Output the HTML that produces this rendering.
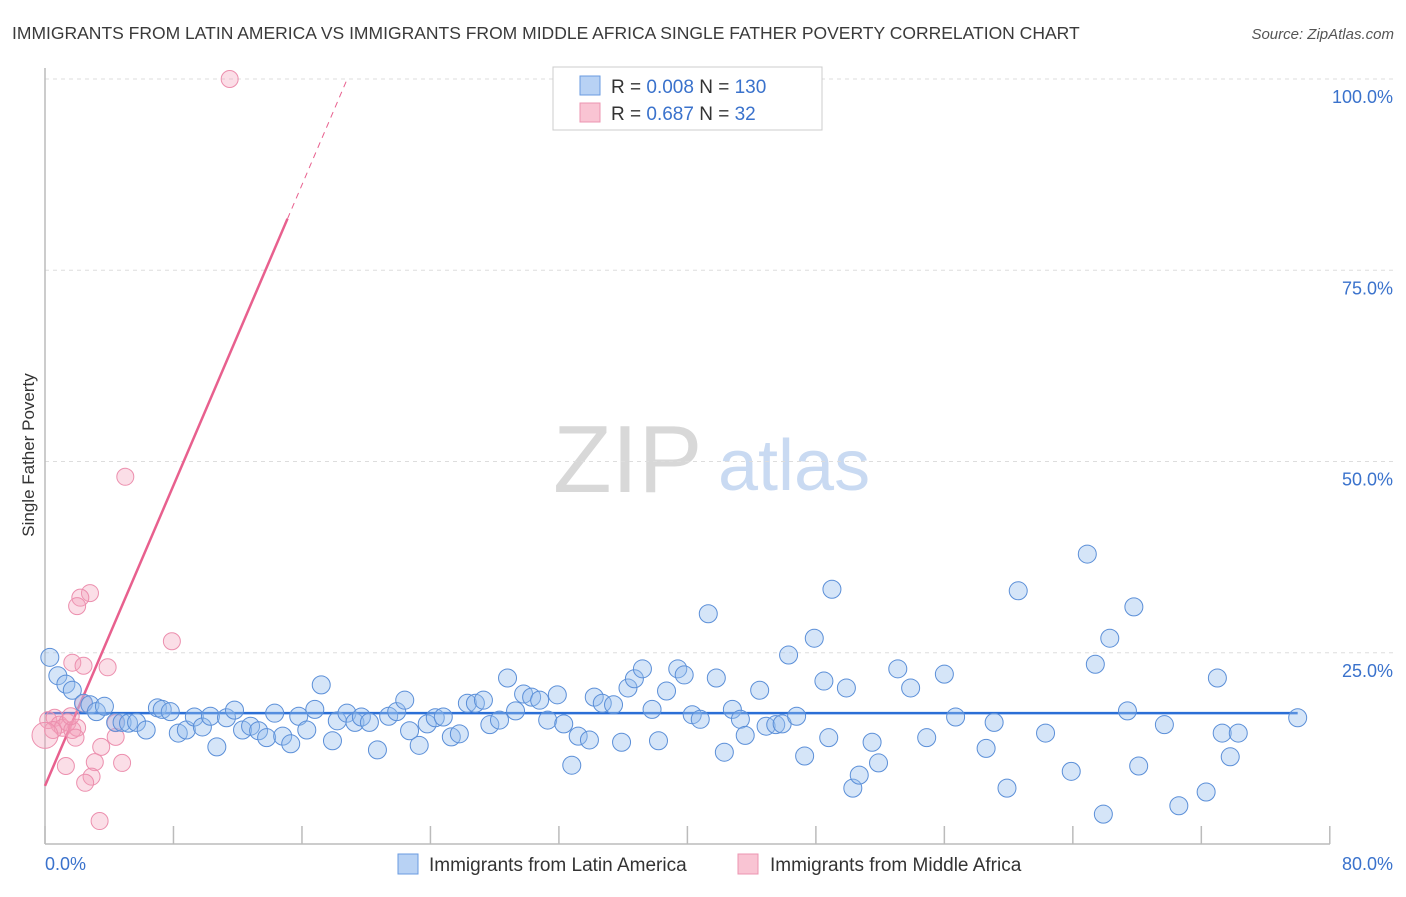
<!DOCTYPE html>
<html><head><meta charset="utf-8"><style>
body{margin:0;background:#fff;font-family:"Liberation Sans",sans-serif}
svg text{font-family:"Liberation Sans",sans-serif}
</style></head><body>
<svg id="chart" width="1406" height="892" viewBox="0 0 1406 892" xmlns="http://www.w3.org/2000/svg">
<text x="12" y="39" font-size="17.5" fill="#3a3a3a">IMMIGRANTS FROM LATIN AMERICA VS IMMIGRANTS FROM MIDDLE AFRICA SINGLE FATHER POVERTY CORRELATION CHART</text>
<text x="1394" y="39" font-size="15" fill="#555" text-anchor="end" font-style="italic">Source: ZipAtlas.com</text>
<g>
<text x="553" y="492" font-size="96" font-family="Liberation Serif" fill="#d8d8d8">ZIP</text>
<text x="718" y="490" font-size="72" fill="#c9daf2">atlas</text>
</g>
<g id="grid"></g>
<g id="axes"></g>
<g id="lines"></g>
<g id="pts"></g>
<text transform="translate(34,455) rotate(-90)" font-size="17" fill="#333" text-anchor="middle">Single Father Poverty</text>
<g>
<rect x="553" y="67" width="269" height="63" fill="#fff" stroke="#ccc"/>
<rect x="580" y="76" width="20" height="19" fill="#b8d2f4" stroke="#6a9be0"/>
<rect x="580" y="103" width="20" height="19" fill="#f9c4d3" stroke="#ec95b0"/>
<text x="611" y="93" font-size="19" fill="#333">R = <tspan fill="#3a72cc">0.008</tspan>   N = <tspan fill="#3a72cc">130</tspan></text>
<text x="611" y="120" font-size="19" fill="#333">R =  <tspan fill="#3a72cc">0.687</tspan>   N =   <tspan fill="#3a72cc">32</tspan></text>
</g>
<g>
<rect x="398" y="854" width="20" height="20" fill="#b8d2f4" stroke="#6a9be0"/>
<text x="429" y="871" font-size="19" fill="#333">Immigrants from Latin America</text>
<rect x="738" y="854" width="20" height="20" fill="#f9c4d3" stroke="#ec95b0"/>
<text x="770" y="871" font-size="19" fill="#333">Immigrants from Middle Africa</text>
</g>
</svg>
<script>
const yTicks=[25,50,75,100];
const yTickLabels=["25.0%","50.0%","75.0%","100.0%"];
const xTicks=[0,8,16,24,32,40,48,56,64,72,80];
const blueX=[0.3,0.8,1.3,1.7,2.4,2.8,3.2,3.7,4.4,4.8,5.2,5.7,6.3,7.0,7.3,7.8,8.3,8.8,9.3,9.8,10.3,10.7,11.3,11.8,12.3,12.8,13.3,13.8,14.3,14.8,15.3,15.8,16.3,16.8,17.2,17.9,18.2,18.8,19.3,19.7,20.2,20.7,21.4,21.9,22.4,22.7,23.3,23.8,24.3,24.8,25.3,25.8,26.3,26.8,27.3,27.7,28.3,28.8,29.3,29.8,30.3,30.8,31.3,31.9,32.3,32.8,33.2,33.9,34.2,34.7,35.4,35.9,36.3,36.7,37.2,37.8,38.2,38.7,39.4,39.8,40.3,40.8,41.3,41.8,42.3,42.8,43.3,43.6,44.5,44.9,45.5,45.9,46.3,46.8,47.3,47.9,48.5,48.8,49.0,49.9,50.3,50.7,51.5,51.9,53.1,53.9,54.9,56.0,56.7,58.6,59.1,59.9,60.6,62.3,63.9,64.9,65.4,65.9,66.3,67.4,67.8,68.1,69.7,70.6,72.3,73.0,73.3,73.8,74.3,78.0];
const blueY=[24.4,22.0,20.9,20.1,18.4,18.2,17.3,18.0,15.9,15.9,15.8,15.9,14.9,17.8,17.6,17.3,14.5,14.9,16.6,15.3,16.7,12.7,16.5,17.5,14.9,15.4,14.8,13.9,17.1,14.1,13.1,16.7,14.9,17.6,20.8,13.5,16.1,17.1,15.9,16.6,15.9,12.3,16.7,17.3,18.8,14.8,12.9,15.7,16.5,16.6,14.0,14.4,18.4,18.4,18.8,15.6,16.2,21.7,17.4,19.6,19.2,18.8,16.2,19.5,15.7,10.3,14.1,13.6,19.2,18.4,18.2,13.3,20.4,21.6,22.9,17.6,13.5,20.0,22.9,22.1,16.9,16.3,30.1,21.7,12.0,17.6,16.3,14.2,20.1,15.4,15.6,15.7,24.7,16.7,11.5,26.9,21.3,13.9,33.3,20.4,7.3,9.0,13.3,10.6,22.9,20.4,13.9,22.2,16.6,12.5,15.9,7.3,33.1,14.5,9.5,37.9,23.5,3.9,26.9,17.4,31.0,10.2,15.6,5.0,6.8,21.7,14.5,11.4,14.5,16.5];
const pinkX=[11.5,5.0,2.8,2.2,2.0,7.9,1.7,2.4,3.9,2.4,0.2,0.6,0.9,1.1,1.4,1.7,2.0,0.5,0.0,4.4,4.4,3.5,1.3,3.1,4.8,2.9,2.5,3.4,1.9,1.6];
const pinkY=[100,48.0,32.8,32.2,31.1,26.5,23.7,23.3,23.1,18.4,16.2,16.5,15.6,15.2,15.9,14.9,15.2,14.9,14.2,15.8,14.0,12.7,10.2,10.7,10.6,8.8,8.0,3.0,13.9,16.7];
const blueTrend=[0,78,17.1];
const pinkTrend=[7.6,4.91];
const ns="http://www.w3.org/2000/svg";
const X=v=>45+v*16.06, Y=v=>844-v*7.65;
function mk(t,a,p){const e=document.createElementNS(ns,t);for(const k in a)e.setAttribute(k,a[k]);document.getElementById(p).appendChild(e);return e;}
yTicks.forEach((t,i)=>{
 const g=mk('line',{x1:45,x2:1394,y1:Y(t),y2:Y(t),stroke:'#ddd','stroke-dasharray':'4,4'},'grid');
 
 
 const l=mk('text',{x:1393,y:Y(t)+24,'font-size':18,fill:'#3a72cc','text-anchor':'end'},'axes');
 
 
 l.textContent=yTickLabels[i];
});
const ax=mk('line',{x1:45,x2:1330,y1:844,y2:844,stroke:'#bbb','stroke-width':1.5},'axes');


const ay=mk('line',{x1:45,x2:45,y1:68,y2:844,stroke:'#bbb','stroke-width':1.5},'axes');


xTicks.forEach(t=>{const k=mk('line',{x1:X(t),x2:X(t),y1:826,y2:844,stroke:'#bbb','stroke-width':1.5},'axes');
 
 });
const x0=mk('text',{x:45,y:870,'font-size':18,fill:'#3a72cc'},'axes');x0.textContent='0.0%';


const x1=mk('text',{x:1393,y:870,'font-size':18,fill:'#3a72cc','text-anchor':'end'},'axes');x1.textContent='80.0%';


pinkX.forEach((v,i)=>{const c=mk('circle',{cx:X(v),cy:Y(pinkY[i]),r:i==18?13:8.5,fill:'rgba(244,160,186,0.35)',stroke:'#ec8fae','stroke-width':1},'pts');
 
 });
blueX.forEach((v,i)=>{const c=mk('circle',{cx:X(v),cy:Y(blueY[i]),r:9,fill:'rgba(150,190,238,0.4)',stroke:'#5b8fd8','stroke-width':1},'pts');
 
 });
const bl=mk('line',{x1:X(blueTrend[0]),x2:X(blueTrend[1]),y1:Y(blueTrend[2]),y2:Y(blueTrend[2]),stroke:'#2b6fd6','stroke-width':2.5},'lines');


const xs=15.1, xe=(100-pinkTrend[0])/pinkTrend[1];
const pl=mk('line',{x1:X(0),y1:Y(pinkTrend[0]),x2:X(xs),y2:Y(pinkTrend[0]+pinkTrend[1]*xs),stroke:'#e8608e','stroke-width':2.5},'lines');


const pd=mk('line',{x1:X(xs),y1:Y(pinkTrend[0]+pinkTrend[1]*xs),x2:X(xe),y2:Y(100),stroke:'#e8608e','stroke-width':1,'stroke-dasharray':'6,5'},'lines');


</script>
</body></html>
